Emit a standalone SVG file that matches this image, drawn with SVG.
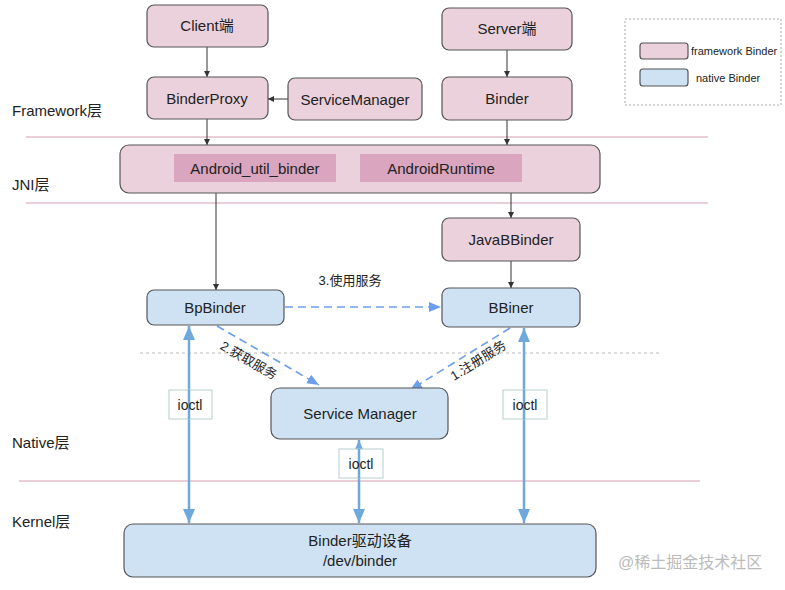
<svg xmlns="http://www.w3.org/2000/svg" width="785" height="590" viewBox="0 0 785 590">
<style>
  text { font-family: "Liberation Sans", Arial, "Noto Sans CJK SC", sans-serif; fill: #222; }
  .lbl { font-size: 15px; text-anchor: middle; }
  .layer { font-size: 15px; }
  .pink { fill: #ead1dc; stroke: #555; stroke-width: 1.2; }
  .blue { fill: #cfe2f3; stroke: #555; stroke-width: 1.2; }
  .inner { fill: #d9a5bf; stroke: none; }
  .sep { stroke: #e3bfcc; stroke-width: 1.5; }
  .thin { stroke: #333; stroke-width: 1; fill: none; }
  .blu { stroke: #6fa8dc; stroke-width: 2.5; fill: none; }
  .dash { stroke: #6d9eeb; stroke-width: 1.6; stroke-dasharray: 8 5; fill: none; }
  .ioctl { fill: #fff; stroke: #b8d0d0; stroke-width: 1; }
</style>
<defs>
  <marker id="ah" markerWidth="8" markerHeight="8" refX="6" refY="3" orient="auto" markerUnits="userSpaceOnUse">
    <path d="M0,0 L6,3 L0,6 z" fill="#333"/>
  </marker>
  <marker id="bh" markerWidth="16" markerHeight="12" refX="14" refY="6" orient="auto-start-reverse" markerUnits="userSpaceOnUse">
    <path d="M0,0 L14,6 L0,12 z" fill="#6fa8dc"/>
  </marker>
  <marker id="dh" markerWidth="14" markerHeight="10" refX="12" refY="5" orient="auto" markerUnits="userSpaceOnUse">
    <path d="M0,0 L12,5 L0,10 z" fill="#6d9eeb"/>
  </marker>
</defs>
<rect width="785" height="590" fill="#fff"/>

<g id="separators">
  <line class="sep" x1="26" y1="137" x2="708" y2="137"/>
  <line class="sep" x1="26" y1="203" x2="708" y2="203"/>
  <line x1="140" y1="353" x2="660" y2="353" stroke="#bbb" stroke-width="1" stroke-dasharray="3 3"/>
  <line class="sep" x1="19" y1="481" x2="700" y2="481"/>
</g>

<g id="layer-labels">
  <text class="layer" x="12" y="116">Framework层</text>
  <text class="layer" x="12" y="190">JNI层</text>
  <text class="layer" x="12" y="448">Native层</text>
  <text class="layer" x="12" y="527">Kernel层</text>
</g>

<g id="legend">
  <rect x="625" y="19" width="156" height="86" fill="none" stroke="#aaa" stroke-width="1" stroke-dasharray="2 2"/>
  <rect x="640" y="43" width="48" height="16" rx="3" class="pink"/>
  <text x="691" y="55" font-size="11">framework Binder</text>
  <rect x="640" y="69" width="48" height="17" rx="3" class="blue"/>
  <text x="696" y="82" font-size="11">native Binder</text>
</g>

<g id="connectors">
  <line class="thin" x1="207" y1="47" x2="207" y2="77" marker-end="url(#ah)"/>
  <line class="thin" x1="207" y1="119" x2="207" y2="145" marker-end="url(#ah)"/>
  <line class="thin" x1="288" y1="99" x2="268" y2="99" marker-end="url(#ah)"/>
  <line class="thin" x1="507" y1="50" x2="507" y2="77" marker-end="url(#ah)"/>
  <line class="thin" x1="507" y1="120" x2="507" y2="145" marker-end="url(#ah)"/>
  <line class="thin" x1="216" y1="193" x2="216" y2="290" marker-end="url(#ah)"/>
  <line class="thin" x1="511" y1="193" x2="511" y2="218" marker-end="url(#ah)"/>
  <line class="thin" x1="511" y1="261" x2="511" y2="288" marker-end="url(#ah)"/>
  <line class="dash" x1="285" y1="307" x2="441" y2="307" marker-end="url(#dh)"/>
  <line class="dash" x1="217" y1="326" x2="319" y2="385" marker-end="url(#dh)"/>
  <line class="dash" x1="510" y1="328" x2="410" y2="390" marker-end="url(#dh)"/>
  <line class="blu" x1="189" y1="326" x2="189" y2="523" marker-start="url(#bh)" marker-end="url(#bh)"/>
  <line class="blu" x1="524" y1="328" x2="524" y2="523" marker-start="url(#bh)" marker-end="url(#bh)"/>
  <line class="blu" x1="359" y1="440" x2="359" y2="523" marker-start="url(#bh)" marker-end="url(#bh)"/>
  <text x="350" y="285" font-size="13" text-anchor="middle">3.使用服务</text>
  <text x="249" y="365" font-size="13" text-anchor="middle" transform="rotate(30 249 360)">2.获取服务</text>
  <text x="478" y="365" font-size="13" text-anchor="middle" transform="rotate(-32 478 360)">1.注册服务</text>
</g>

<g id="ioctl-left">
  <rect class="ioctl" x="169" y="390" width="43" height="29"/>
  <line class="blu" x1="189" y1="390" x2="189" y2="419"/>
  <text x="190" y="410" font-size="14" text-anchor="middle">ioctl</text>
</g>
<g id="ioctl-right">
  <rect class="ioctl" x="503" y="390" width="44" height="29"/>
  <line class="blu" x1="524" y1="390" x2="524" y2="419"/>
  <text x="525" y="410" font-size="14" text-anchor="middle">ioctl</text>
</g>
<g id="ioctl-middle">
  <rect class="ioctl" x="339" y="449" width="44" height="29"/>
  <line class="blu" x1="359" y1="449" x2="359" y2="478"/>
  <text x="361" y="469" font-size="14" text-anchor="middle">ioctl</text>
</g>

<g id="client">
  <rect class="pink" x="147" y="5" width="121" height="42" rx="7"/>
  <text class="lbl" x="207" y="31">Client端</text>
</g>
<g id="binderproxy">
  <rect class="pink" x="147" y="77" width="121" height="42" rx="7"/>
  <text class="lbl" x="207" y="104">BinderProxy</text>
</g>
<g id="servicemanager-fw">
  <rect class="pink" x="288" y="78" width="134" height="42" rx="7"/>
  <text class="lbl" x="355" y="105">ServiceManager</text>
</g>
<g id="server">
  <rect class="pink" x="442" y="8" width="130" height="42" rx="7"/>
  <text class="lbl" x="507" y="34">Server端</text>
</g>
<g id="binder">
  <rect class="pink" x="442" y="77" width="130" height="43" rx="7"/>
  <text class="lbl" x="507" y="104">Binder</text>
</g>
<g id="jni">
  <rect class="pink" x="120" y="145" width="480" height="48" rx="9"/>
  <rect class="inner" x="174" y="154" width="162" height="28"/>
  <text class="lbl" x="255" y="174">Android_util_binder</text>
  <rect class="inner" x="360" y="154" width="162" height="28"/>
  <text class="lbl" x="441" y="174">AndroidRuntime</text>
</g>
<g id="javabbinder">
  <rect class="pink" x="442" y="218" width="138" height="43" rx="7"/>
  <text class="lbl" x="511" y="245">JavaBBinder</text>
</g>
<g id="bpbinder">
  <rect class="blue" x="147" y="290" width="137" height="35" rx="7"/>
  <text class="lbl" x="215" y="313">BpBinder</text>
</g>
<g id="bbiner">
  <rect class="blue" x="442" y="288" width="138" height="39" rx="7"/>
  <text class="lbl" x="511" y="313">BBiner</text>
</g>
<g id="service-manager">
  <rect class="blue" x="271" y="388" width="177" height="51" rx="9"/>
  <text class="lbl" x="360" y="419">Service Manager</text>
</g>
<g id="binder-driver">
  <rect class="blue" x="124" y="524" width="472" height="53" rx="9"/>
  <text class="lbl" x="360" y="546">Binder驱动设备</text>
  <text class="lbl" x="360" y="566">/dev/binder</text>
</g>

<text x="618" y="568" font-size="16" fill="#bbb" style="fill:#bbb">@稀土掘金技术社区</text>
</svg>
